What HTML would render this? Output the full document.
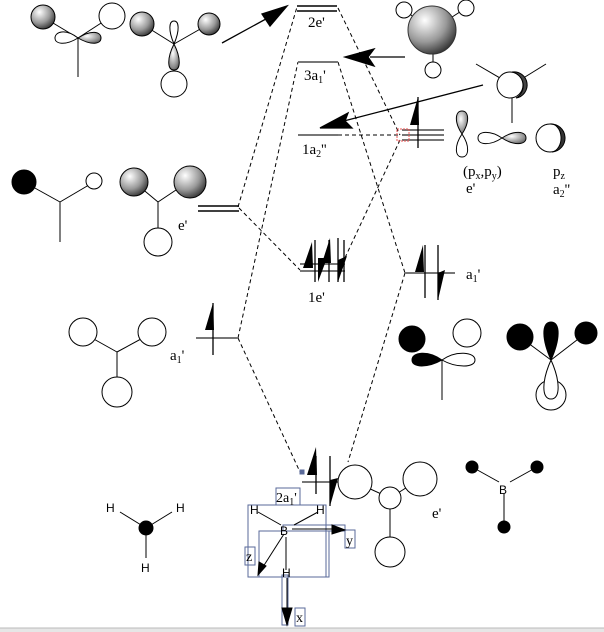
<!DOCTYPE html>
<html><head><meta charset="utf-8"><style>
html,body{margin:0;padding:0;background:#fff;}
svg{display:block;font-family:"Liberation Serif",serif;}
</style></head><body>
<svg width="604" height="632" viewBox="0 0 604 632" xmlns="http://www.w3.org/2000/svg">
<defs>
<radialGradient id="sp" cx="0.35" cy="0.3" r="0.75">
<stop offset="0" stop-color="#fff"/><stop offset="0.6" stop-color="#999"/><stop offset="1" stop-color="#333"/>
</radialGradient>
<radialGradient id="lb" cx="0.4" cy="0.35" r="0.8">
<stop offset="0" stop-color="#fff"/><stop offset="0.7" stop-color="#888"/><stop offset="1" stop-color="#444"/>
</radialGradient>
</defs>
<g stroke="#000" stroke-width="1" fill="none" stroke-dasharray="4,3">
<polyline points="238,207 297,7"/>
<polyline points="238,338 298,62"/>
<polyline points="239,208 300,270"/>
<polyline points="338,8 400,135"/>
<polyline points="338,62 405,273"/>
<polyline points="400,140 343,262"/>
<polyline points="338,135 400,135"/>
<polyline points="238,338 300,472"/>
<polyline points="405,273 348,462"/>
</g>
<g stroke="#000" stroke-width="1.5">
<line x1="297" y1="6" x2="337" y2="6"/><line x1="297" y1="11" x2="337" y2="11"/>
<line x1="198" y1="206" x2="239" y2="206"/><line x1="198" y1="211" x2="239" y2="211"/>
</g>
<g stroke="#777" stroke-width="2">
<line x1="298" y1="62" x2="338" y2="62"/>
<line x1="298" y1="135" x2="338" y2="135"/>
<line x1="402" y1="130" x2="444" y2="130"/><line x1="402" y1="135" x2="444" y2="135"/><line x1="402" y1="140" x2="444" y2="140"/>
<line x1="300" y1="264" x2="345" y2="264"/><line x1="300" y1="271" x2="345" y2="271"/>
<line x1="196" y1="338" x2="238" y2="338"/>
<line x1="405" y1="273" x2="455" y2="273"/>
<line x1="302" y1="482" x2="338" y2="482"/>
</g>
<rect x="397" y="129" width="12" height="12" fill="none" stroke="#e55" stroke-dasharray="2,1"/>
<g font-size="15" fill="#000">
<text x="308" y="27">2e'</text>
<text x="304" y="80">3a<tspan font-size="10" dy="3">1</tspan><tspan dy="-3">'</tspan></text>
<text x="302" y="154">1a<tspan font-size="10" dy="3">2</tspan><tspan dy="-3">''</tspan></text>
<text x="308" y="302">1e'</text>
<text x="178" y="230">e'</text>
<text x="170" y="360">a<tspan font-size="10" dy="3">1</tspan><tspan dy="-3">'</tspan></text>
<text x="466" y="279">a<tspan font-size="10" dy="3">1</tspan><tspan dy="-3">'</tspan></text>
<text x="463" y="176">(p<tspan font-size="10" dy="3">x</tspan><tspan dy="-3">,p</tspan><tspan font-size="10" dy="3">y</tspan><tspan dy="-3">)</tspan></text>
<text x="466" y="193">e'</text>
<text x="553" y="176">p<tspan font-size="10" dy="3">z</tspan></text>
<text x="553" y="194">a<tspan font-size="10" dy="3">2</tspan><tspan dy="-3">''</tspan></text>
<text x="432" y="518">e'</text>
</g>
<g stroke="#000" stroke-width="1.3">
<line x1="418" y1="97" x2="418" y2="148"/>
<line x1="315" y1="240" x2="315" y2="282"/><line x1="329" y1="240" x2="329" y2="282"/>
<line x1="338" y1="238" x2="338" y2="282"/><line x1="344" y1="240" x2="344" y2="282"/>
<line x1="213" y1="303" x2="213" y2="355"/>
<line x1="425" y1="245" x2="425" y2="298"/><line x1="438" y1="245" x2="438" y2="300"/>
<line x1="316" y1="456" x2="316" y2="494"/><line x1="330" y1="456" x2="330" y2="506"/>
</g>
<g fill="#000">
<polygon points="418,97 419,125 410,125"/>
<polygon points="312,242 313,268 303,268"/>
<polygon points="327,258 318,282 318,258"/>
<polygon points="330,238 331,263 322,263"/>
<polygon points="347,256 338,282 338,260"/>
<polygon points="213,303 214,330 205,330"/>
<polygon points="423,245 424,272 415,272"/>
<polygon points="445,270 438,300 438,273"/>
<polygon points="316,447 317,475 307,475"/>
<polygon points="338,478 330,506 330,480"/>
</g>
<g stroke="#000" stroke-width="1.3" fill="#000">
<line x1="222" y1="43" x2="275" y2="14"/><polygon points="287,6 262,14 270,26"/>
<line x1="405" y1="57" x2="370" y2="57"/><polygon points="345,57 374,49 368,57 374,66"/>
<line x1="483" y1="85" x2="340" y2="122"/><polygon points="320,128 348,113 345,121 352,128"/>
</g>
<g stroke="#000" stroke-width="1">
<line x1="43" y1="17" x2="78" y2="38"/><line x1="112" y1="16" x2="78" y2="38"/><line x1="78" y1="38" x2="78" y2="77"/>
<path d="M78,38 C65,28 55,32 55,38 C55,44 65,46 78,38Z" fill="#fff"/>
<path d="M78,38 C92,29 101,32 101,38 C101,44 92,46 78,38Z" fill="url(#lb)"/>
<circle cx="43" cy="17" r="12" fill="url(#sp)"/>
<circle cx="112" cy="16" r="13" fill="#fff"/>
<line x1="142" y1="24" x2="174" y2="44"/><line x1="209" y1="24" x2="174" y2="44"/><line x1="174" y1="44" x2="174" y2="72"/>
<path d="M174,44 C168,30 169,21 174,21 C179,21 180,30 174,44Z" fill="#fff"/>
<path d="M174,44 C167,58 167,70 174,70 C181,70 181,58 174,44Z" fill="url(#lb)"/>
<circle cx="142" cy="24" r="12" fill="url(#sp)"/>
<circle cx="209" cy="24" r="11" fill="url(#sp)"/>
<circle cx="174" cy="84" r="13" fill="#fff"/>
</g>
<g stroke="#000" stroke-width="1">
<line x1="404" y1="10" x2="432" y2="30"/><line x1="466" y1="8" x2="432" y2="30"/><line x1="433" y1="50" x2="433" y2="70"/>
<circle cx="404" cy="10" r="8" fill="#fff"/><circle cx="466" cy="8" r="8" fill="#fff"/><circle cx="433" cy="70" r="8" fill="#fff"/>
<circle cx="432" cy="30" r="24" fill="url(#sp)" stroke="#333"/>
<line x1="476" y1="64" x2="512" y2="85"/><line x1="546" y1="64" x2="512" y2="85"/>
<line x1="512" y1="85" x2="512" y2="123"/>
<circle cx="510" cy="85" r="13" fill="#fff"/>
<path d="M512,72 A13,13 0 0 1 516,98 A14,14 0 0 0 512,72Z" fill="#444"/>
<path d="M462,134 C454,122 455,111 462,111 C469,111 470,122 462,134Z" fill="url(#lb)"/>
<path d="M462,134 C454,146 455,157 462,157 C469,157 470,146 462,134Z" fill="#fff"/>
<path d="M502,138 C490,130 478,131 478,138 C478,145 490,146 502,138Z" fill="#fff"/>
<path d="M502,138 C514,130 526,131 526,138 C526,145 514,146 502,138Z" fill="url(#lb)"/>
<circle cx="550" cy="138" r="14" fill="#fff"/>
<path d="M550,124 A14,14 0 0 1 552,152 A10,14 0 0 0 550,124Z" fill="#333"/>
</g>
<g stroke="#000" stroke-width="1">
<line x1="24" y1="182" x2="60" y2="202"/><line x1="94" y1="182" x2="60" y2="202"/><line x1="60" y1="202" x2="60" y2="242"/>
<circle cx="24" cy="182" r="12" fill="#000"/>
<circle cx="94" cy="181" r="8" fill="#fff"/>
<line x1="134" y1="182" x2="158" y2="202"/><line x1="188" y1="182" x2="158" y2="202"/><line x1="158" y1="202" x2="158" y2="228"/>
<circle cx="134" cy="182" r="14" fill="url(#sp)"/>
<circle cx="190" cy="182" r="16" fill="url(#sp)"/>
<circle cx="158" cy="242" r="14" fill="#fff"/>
<line x1="83" y1="333" x2="117" y2="352"/><line x1="152" y1="333" x2="117" y2="352"/><line x1="117" y1="352" x2="117" y2="378"/>
<circle cx="83" cy="332" r="14" fill="#fff"/><circle cx="152" cy="332" r="14" fill="#fff"/><circle cx="117" cy="392" r="15" fill="#fff"/>
</g>
<g stroke="#000" stroke-width="1">
<line x1="120" y1="512" x2="146" y2="528"/><line x1="172" y1="512" x2="146" y2="528"/><line x1="146" y1="528" x2="146" y2="558"/>
<circle cx="146" cy="528" r="7" fill="#000"/>
</g>
<g font-family="Liberation Sans,sans-serif" font-size="12" fill="#000">
<text x="106" y="512">H</text><text x="176" y="512">H</text><text x="141" y="572">H</text>
<text x="499" y="494">B</text>
</g>
<g stroke="#000" stroke-width="1">
<line x1="442" y1="360" x2="442" y2="400"/>
<circle cx="412" cy="339" r="13" fill="#000"/>
<circle cx="467" cy="333" r="14" fill="#fff"/>
<path d="M442,360 C428,350 412,352 412,360 C412,368 428,368 442,360Z" fill="#000"/>
<path d="M442,360 C456,350 475,352 475,360 C475,368 456,368 442,360Z" fill="#fff"/>
<line x1="520" y1="337" x2="551" y2="360"/><line x1="586" y1="333" x2="551" y2="360"/>
<circle cx="520" cy="337" r="13" fill="#000"/><circle cx="586" cy="333" r="11" fill="#000"/>
<circle cx="551" cy="395" r="15" fill="#fff"/>
<path d="M551,360 C542,380 541,399 551,399 C561,399 560,380 551,360Z" fill="#fff"/>
<path d="M551,360 C542,340 541,322 551,322 C561,322 560,340 551,360Z" fill="#000"/>
</g>
<g stroke="#000" stroke-width="1">
<line x1="355" y1="482" x2="390" y2="498"/><line x1="420" y1="479" x2="390" y2="498"/><line x1="390" y1="498" x2="390" y2="540"/>
<circle cx="355" cy="482" r="17" fill="#fff"/><circle cx="420" cy="479" r="17" fill="#fff"/>
<circle cx="390" cy="498" r="11" fill="#fff"/><circle cx="390" cy="552" r="15" fill="#fff"/>
<line x1="472" y1="467" x2="499" y2="482"/><line x1="537" y1="467" x2="510" y2="482"/><line x1="504" y1="494" x2="504" y2="527"/>
<circle cx="472" cy="467" r="6" fill="#000"/><circle cx="537" cy="467" r="6" fill="#000"/><circle cx="504" cy="527" r="6" fill="#000"/>
</g>
<g stroke="#5a6a9a" stroke-width="1" fill="none">
<rect x="248" y="505" width="78" height="72"/>
<rect x="259" y="531" width="70" height="46"/>
<rect x="276" y="488" width="24" height="17"/>
<rect x="283" y="525" width="62" height="6"/>
<rect x="245" y="547" width="10" height="18"/>
<rect x="282" y="575" width="6" height="50"/>
<rect x="295" y="608" width="10" height="18"/>
<rect x="345" y="530" width="10" height="18"/>
<rect x="300" y="470" width="4" height="4" fill="#5a6a9a"/>
</g>
<g stroke="#000" stroke-width="1" fill="#000">
<line x1="258" y1="512" x2="281" y2="525"/><line x1="318" y1="512" x2="294" y2="525"/>
<line x1="286" y1="537" x2="286" y2="570"/>
<line x1="284" y1="534" x2="261" y2="570"/><polygon points="258,575 259,562 266,566"/>
<line x1="292" y1="529" x2="335" y2="529"/><polygon points="345,530 332,525 332,534"/>
<line x1="287" y1="578" x2="287" y2="612"/><polygon points="287,625 282,608 292,608"/>
</g>
<g font-family="Liberation Sans,sans-serif" font-size="12" fill="#000">
<text x="250" y="514">H</text><text x="316" y="514">H</text><text x="280" y="535">B</text><text x="282" y="577">H</text>
</g>
<g font-size="14" fill="#000">
<text x="276" y="502">2a<tspan font-size="10" dy="3">1</tspan><tspan dy="-3">'</tspan></text>
<text x="346" y="545">y</text><text x="246" y="561">z</text><text x="296" y="622">x</text>
</g>
<rect x="0" y="628" width="604" height="4" fill="#e6e6e6"/>
<line x1="0" y1="628" x2="604" y2="628" stroke="#bbb"/>
</svg>
</body></html>
